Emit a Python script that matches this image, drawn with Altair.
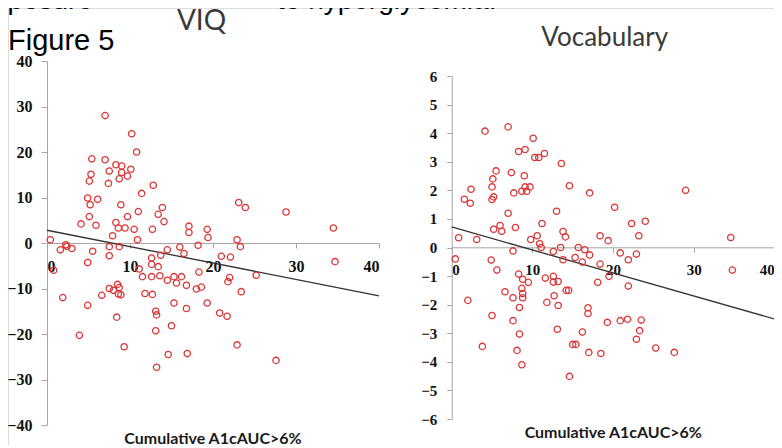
import altair as alt
import pandas as pd

# ---------------- data ----------------
viq_x = [7.0, 10.2, 10.8, 5.4, 7.0, 8.3, 9.0, 7.5, 9.0, 10.1, 5.3, 8.7, 9.7, 5.1, 7.4, 12.8, 11.4, 4.9, 6.1, 5.2,
         8.9, 13.9, 13.4, 11.0, 5.1, 9.7, 14.1, 4.1, 5.9, 8.3, 8.6, 9.4, 10.5, 12.7, 17.1, 17.1, 19.3, 19.4, 23.1, 23.9,
         22.9, 23.3, 7.9, 10.9, 0.4, 1.6, 2.25, 2.4, 3.0, 5.5, 7.5, 8.7, 7.5, 4.9, 0.8, 14.5, 16.0, 16.5, 18.2, 13.7,
         12.6, 12.6, 13.4, 11.1, 11.5, 12.6, 13.6, 14.5, 15.3, 16.2, 15.6, 16.8, 18.3, 21.0, 22.1, 22.0, 21.8, 25.2, 23.4, 18.0,
         18.6, 7.5, 8.0, 8.5, 8.7, 8.6, 8.9, 6.6, 11.8, 12.7, 1.9, 4.9, 15.3, 16.8, 19.3, 20.8, 21.7, 8.4, 13.1, 13.2,
         15.0, 13.1, 3.9, 9.3, 22.9, 14.6, 16.9, 13.2, 28.8, 34.5, 34.7, 27.6]
viq_y = [28.0, 24.0, 20.0, 18.5, 18.3, 17.2, 16.9, 15.8, 15.5, 16.2, 15.1, 14.1, 14.7, 13.6, 13.1, 12.7, 10.9, 9.9, 9.6, 8.4,
         8.4, 7.8, 6.3, 6.9, 5.8, 5.8, 4.7, 4.2, 3.9, 4.5, 3.3, 3.3, 3.0, 3.0, 3.7, 2.3, 3.0, 1.2, 8.9, 7.8,
         0.7, -0.8, 1.6, 0.7, 0.7, -1.5, -0.4, -0.7, -1.2, -1.8, -0.8, -0.8, -2.8, -4.3, -6.0, -1.5, -0.9, -2.3, -0.5, -2.7,
         -3.3, -4.7, -5.2, -5.7, -7.4, -7.4, -7.2, -8.2, -7.4, -7.4, -8.8, -9.3, -6.4, -2.9, -3.1, -7.6, -8.5, -7.1, -10.7, -10.1,
         -9.7, -10.0, -10.4, -9.1, -9.8, -11.2, -11.4, -11.5, -11.1, -11.3, -12.0, -13.7, -13.2, -14.4, -13.2, -15.4, -16.1, -16.3, -15.0, -15.8,
         -18.2, -19.3, -20.3, -22.8, -22.4, -24.5, -24.3, -27.3, 6.8, 3.3, -4.1, -25.8]

voc_x = [4.13, 7.0, 10.1, 8.3, 9.1, 10.3, 10.8, 11.5, 13.6, 5.5, 7.4, 9.0, 5.1, 5.0, 9.1, 9.7, 8.7, 9.3, 7.7, 2.4,
         14.6, 17.1, 1.57, 2.3, 5.2, 5.0, 20.2, 7.0, 13.0, 6.0, 5.2, 6.2, 7.9, 11.2, 22.3, 24.0, 0.86, 3.1, 9.8, 10.6,
         10.9, 11.1, 13.8, 14.1, 18.4, 19.4, 23.2, 7.6, 12.6, 13.5, 13.8, 15.7, 16.5, 17.1, 15.3, 16.2, 18.4, 20.9, 21.9, 22.9,
         0.45, 4.9, 5.6, 8.3, 8.8, 9.5, 11.6, 12.6, 12.6, 13.2, 18.1, 19.5, 21.9, 6.6, 7.6, 8.7, 8.8, 8.8, 12.7, 14.2,
         14.5, 2.0, 8.4, 11.8, 13.2, 16.9, 16.9, 5.0, 7.6, 19.3, 20.9, 21.8, 23.5, 23.3, 22.9, 8.4, 13.1, 16.2, 3.8, 8.1,
         15.0, 15.4, 17.0, 18.5, 25.3, 8.7, 14.6, 29.0, 34.6, 34.8, 27.6]
voc_y = [4.07, 4.22, 3.82, 3.36, 3.43, 3.15, 3.15, 3.29, 2.94, 2.68, 2.62, 2.51, 2.40, 2.12, 2.12, 2.12, 1.97, 1.97, 1.91, 2.04,
         2.16, 1.91, 1.69, 1.55, 1.77, 1.68, 1.41, 1.20, 1.27, 0.77, 0.64, 0.57, 0.70, 0.84, 0.84, 0.92, 0.34, 0.28, 0.28, 0.41,
         0.13, 0.0, 0.56, 0.37, 0.41, 0.24, 0.41, -0.12, -0.14, 0.0, -0.43, 0.0, -0.08, -0.26, -0.35, -0.51, -0.58, -0.19, -0.43, -0.23,
         -0.40, -0.44, -0.79, -0.93, -1.11, -1.22, -1.07, -1.01, -1.21, -1.19, -1.22, -1.01, -1.35, -1.55, -1.76, -1.43, -1.61, -1.76, -1.69, -1.50,
         -1.50, -1.85, -2.10, -1.92, -2.03, -2.11, -2.31, -2.38, -2.56, -2.62, -2.56, -2.51, -2.54, -2.91, -3.21, -3.03, -2.86, -2.96, -3.46, -3.60,
         -3.39, -3.39, -3.67, -3.71, -3.52, -4.10, -4.51, 2.0, 0.35, -0.79, -3.67]

fit_x = [0, 40]
viq_fit_y = [2.8, -11.6]
voc_fit_y = [0.72, -2.5]

x_ticks = [0, 10, 20, 30, 40]
viq_ticks = [-40, -30, -20, -10, 0, 10, 20, 30, 40]
voc_ticks = [-6, -5, -4, -3, -2, -1, 0, 1, 2, 3, 4, 5, 6]

slide_left_text = ["xposure"]
slide_right_text = ["to hyperglycemia."]
figure_label = ["Figure 5"]
titles = ["VIQ", "Vocabulary"]
x_title = ["Cumulative A1cAUC>6%"]

# ---------------- layout ----------------
W, H = 766, 437
L_XR, L_YR = [39, 371], [417, 53]
R_XR, R_YR = [443.7, 766.3], [411, 68]
RED = "#dd3535"
GRAY = "#a6a6a6"


def axis(orient, offset, values, size, pad, tick):
    return alt.Axis(orient=orient, offset=offset, values=values, grid=False, title=None,
                    domainColor=GRAY, tickColor=GRAY, tickSize=tick, labelPadding=pad,
                    labelFont="Liberation Serif", labelFontWeight="bold", labelFontSize=size,
                    labelColor="#111111", labelOverlap=False)


viq_df = pd.DataFrame({"x": viq_x, "y": viq_y})
voc_df = pd.DataFrame({"x": voc_x, "y": voc_y})
viq_fit = pd.DataFrame({"x": fit_x, "y": viq_fit_y})
voc_fit = pd.DataFrame({"x": fit_x, "y": voc_fit_y})

lx = alt.Scale(domain=[0, 40], range=L_XR, nice=False, zero=False)
ly = alt.Scale(domain=[-40, 40], range=L_YR, nice=False, zero=False)
rx = alt.Scale(domain=[0, 40], range=R_XR, nice=False, zero=False)
ry = alt.Scale(domain=[-6, 6], range=R_YR, nice=False, zero=False)

pt = dict(shape="circle", filled=False, size=40, strokeWidth=1.3, color=RED, opacity=1)

viq_pts = alt.Chart(viq_df).mark_point(**pt).encode(
    x=alt.X("x:Q", scale=lx, axis=axis("bottom", 235 - H, x_ticks, 16, 10, 5)),
    y=alt.Y("y:Q", scale=ly, axis=axis("left", -39, viq_ticks, 16, 9, 6)),
)
viq_line = alt.Chart(viq_fit).mark_line(color="#333333", strokeWidth=1.3).encode(
    x=alt.X("x:Q", scale=lx, axis=None), y=alt.Y("y:Q", scale=ly, axis=None))

voc_pts = alt.Chart(voc_df).mark_point(**pt).encode(
    x=alt.X("x:Q", scale=rx, axis=axis("bottom", 239.3 - H, x_ticks, 15, 10, 5)),
    y=alt.Y("y:Q", scale=ry, axis=axis("left", -443.7, voc_ticks, 15, 10, 5)),
)
voc_line = alt.Chart(voc_fit).mark_line(color="#333333", strokeWidth=1.3).encode(
    x=alt.X("x:Q", scale=rx, axis=None), y=alt.Y("y:Q", scale=ry, axis=None))


def label(txt, x, y, align, font, size, color="#000000", weight="normal"):
    return alt.Chart(pd.DataFrame({"t": txt})).mark_text(
        align=align, baseline="alphabetic", font=font, fontSize=size, color=color, fontWeight=weight
    ).encode(text="t:N", x=alt.value(x), y=alt.value(y))


texts = [
    label(slide_left_text, 85, 1, "right", "Liberation Sans", 28),
    label(slide_right_text, 269, 1, "left", "Liberation Sans", 28),
    label(figure_label, 0, 42, "left", "Liberation Sans", 29),
    label([titles[0]], 193.5, 22, "center", "Lato", 28, "#3a3a3a"),
    label([titles[1]], 596.7, 38, "center", "Lato", 26, "#3a3a3a"),
    label(x_title, 205, 436, "center", "Lato", 16, "#1a1a1a", "bold"),
    label(x_title, 605.3, 430, "center", "Lato", 16, "#1a1a1a", "bold"),
]

chart = alt.layer(viq_line, viq_pts, voc_line, voc_pts, *texts).resolve_scale(
    x="independent", y="independent"
).properties(
    width=W, height=H, autosize=alt.AutoSizeParams(type="none"), padding=0
).configure_view(stroke=None).configure(background="white")

chart.save("out.html", embed_options={"renderer": "svg", "actions": False})
